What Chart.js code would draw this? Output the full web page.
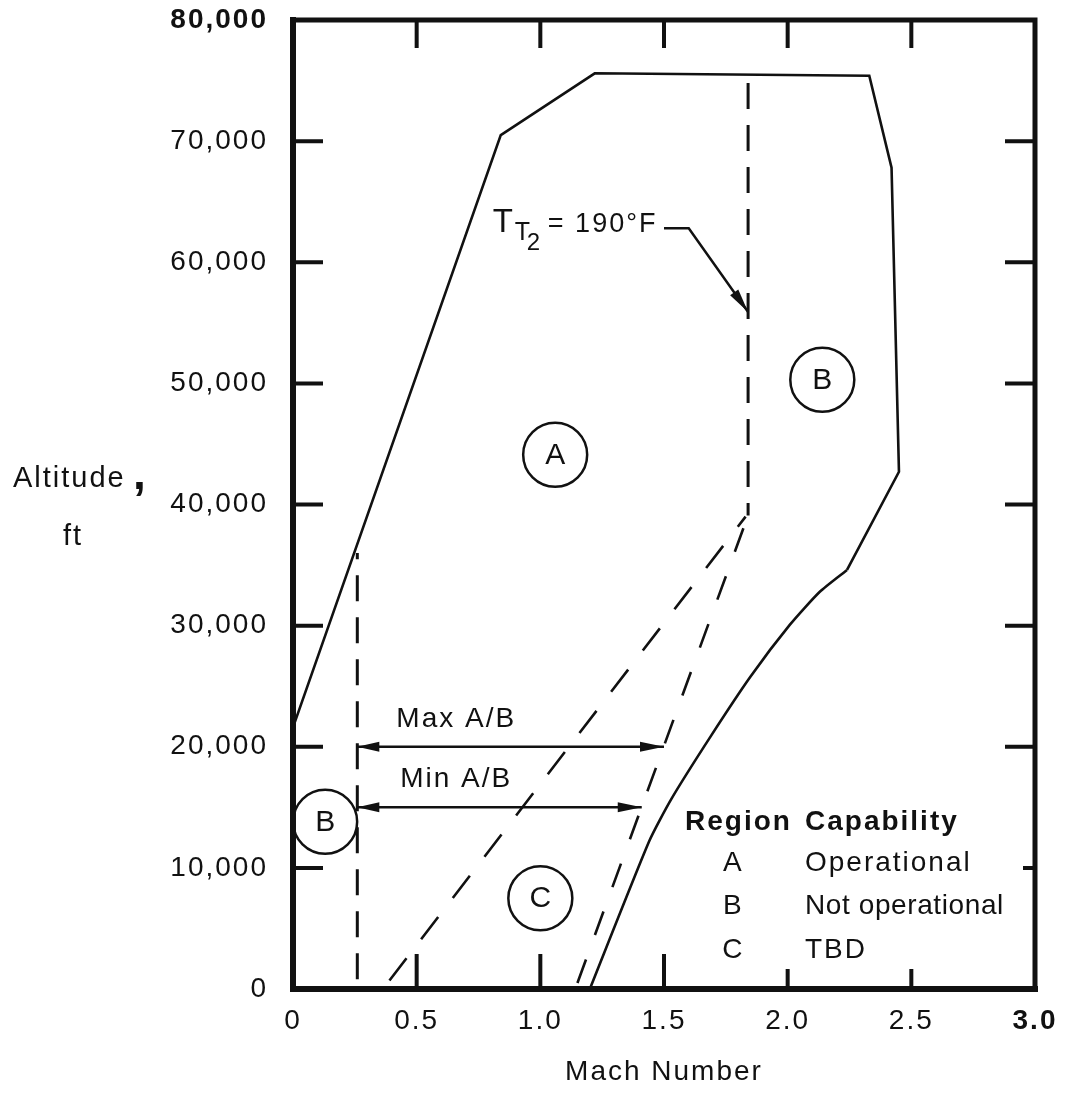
<!DOCTYPE html>
<html>
<head>
<meta charset="utf-8">
<script src="https://cdn.jsdelivr.net/npm/chart.js@4.4.0/dist/chart.umd.min.js"></script>
<style>
  html, body { margin: 0; padding: 0; background: #fff; }
  #wrap { width: 1072px; height: 1107px; position: relative; }
</style>
</head>
<body>
<div id="wrap"><canvas id="envelope"></canvas></div>
<script>
const xTickLabels = ["0", "0.5", "1.0", "1.5", "2.0", "2.5", "3.0"];
const yTickLabels = ["0", "10,000", "20,000", "30,000", "40,000", "50,000", "60,000", "70,000", "80,000"];

// outer envelope, Mach vs altitude (ft): straight part
const envelopeMach = [0, 0.84, 1.22, 2.33, 2.42, 2.45, 2.24];
const envelopeAlt = [21600, 70500, 75600, 75400, 67800, 42700, 34600];
// curved lower edge of the envelope
const lowerEdgeMach = [2.24, 2.13, 2.01, 1.85, 1.69, 1.53, 1.44, 1.2];
const lowerEdgeAlt = [34600, 32800, 30100, 25800, 20900, 15700, 12200, 0];

// dashed limit lines
const lowSpeedMach = [0.26, 0.26];
const lowSpeedAlt = [800, 36000];
const tempLimitMach = [1.84, 1.84];
const tempLimitAlt = [74800, 39100];
const shallowDashMach = [0.39, 1.83];
const shallowDashAlt = [700, 39000];
const steepDashMach = [1.15, 1.84];
const steepDashAlt = [500, 39100];

// afterburner ranges
const maxABMach = [0.26, 1.5];
const maxABAlt = [20000, 20000];
const minABMach = [0.26, 1.41];
const minABAlt = [15000, 15000];

// leader to the T_T2 line
const leaderMach = [1.5, 1.6, 1.84];
const leaderAlt = [62800, 62800, 55900];

// circled region markers
const regionNames = ["A", "B", "B", "C"];
const regionMach = [1.06, 2.14, 0.13, 1.0];
const regionAlt = [44100, 50300, 13800, 7500];

const ink = "#111";
const family = "'Liberation Sans', Arial, Helvetica, sans-serif";

const pts = (xs, ys) => xs.map((x, i) => ({ x, y: ys[i] }));

function lineSet(xs, ys, extra) {
  return Object.assign(
    {
      data: pts(xs, ys),
      showLine: true,
      borderColor: ink,
      borderWidth: 2.5,
      pointRadius: 0,
      fill: false,
      tension: 0,
      clip: false,
    },
    extra || {}
  );
}

function arrowHead(ctx, fromX, fromY, tipX, tipY, len, half) {
  const ang = Math.atan2(tipY - fromY, tipX - fromX);
  ctx.save();
  ctx.translate(tipX, tipY);
  ctx.rotate(ang);
  ctx.beginPath();
  ctx.moveTo(0, 0);
  ctx.lineTo(-len, -half);
  ctx.lineTo(-len, half);
  ctx.closePath();
  ctx.fill();
  ctx.restore();
}

const decor = {
  id: "decor",
  beforeLayout(chart) {
    chart.ctx.letterSpacing = "2px";
  },
  beforeDraw(chart) {
    chart.ctx.letterSpacing = "2px";
  },
  afterDatasetsDraw(chart) {
    const { ctx, chartArea: a } = chart;
    const xs = chart.scales.x;
    const ys = chart.scales.y;
    const X = (v) => xs.getPixelForValue(v);
    const Y = (v) => ys.getPixelForValue(v);

    ctx.save();
    ctx.fillStyle = ink;
    ctx.strokeStyle = ink;
    ctx.letterSpacing = "2px";

    // arrow heads
    chart.data.datasets.forEach((ds, i) => {
      if (!ds.arrows) return;
      const p = chart.getDatasetMeta(i).data;
      if (ds.arrows.includes("start")) {
        arrowHead(ctx, p[1].x, p[1].y, p[0].x, p[0].y, 22, 5);
      }
      if (ds.arrows.includes("end")) {
        const n = p.length;
        arrowHead(ctx, p[n - 2].x, p[n - 2].y, p[n - 1].x, p[n - 1].y, 24, 5);
      }
    });

    // letters inside circles
    const circles = chart.getDatasetMeta(chart.data.datasets.length - 1).data;
    ctx.font = "30px " + family;
    ctx.textAlign = "center";
    ctx.textBaseline = "middle";
    circles.forEach((pt, i) => {
      ctx.fillText(regionNames[i], pt.x + 1, pt.y + 1);
    });

    // arrow labels
    ctx.font = "28px " + family;
    ctx.fillText("Max A/B", X(0.66), Y(22300));
    ctx.fillText("Min A/B", X(0.66), Y(17300));

    // T_T2 = 190°F
    ctx.textAlign = "left";
    ctx.textBaseline = "alphabetic";
    const tx = X(0.808);
    const ty = Y(62500);
    ctx.letterSpacing = "0px";
    ctx.font = "33px " + family;
    ctx.fillText("T", tx, ty);
    ctx.font = "25px " + family;
    ctx.fillText("T", tx + 22, ty + 8);
    ctx.font = "24px " + family;
    ctx.fillText("2", tx + 34, ty + 18);
    ctx.letterSpacing = "2px";
    ctx.font = "27px " + family;
    ctx.fillText("= 190°F", tx + 55, ty);

    // region table
    ctx.textBaseline = "middle";
    ctx.font = "bold 28px " + family;
    ctx.fillText("Region", X(1.585), Y(13800));
    ctx.fillText("Capability", X(2.07), Y(13800));
    ctx.font = "28px " + family;
    const rows = [["A", "Operational"], ["B", "Not operational"], ["C", "TBD"]];
    const rowAlt = [10400, 6800, 3200];
    rows.forEach((r, i) => {
      ctx.textAlign = "center";
      ctx.fillText(r[0], X(1.78), Y(rowAlt[i]));
      ctx.textAlign = "left";
      ctx.letterSpacing = i === 1 ? "0.6px" : "2px";
      ctx.fillText(r[1], X(2.07), Y(rowAlt[i]));
      ctx.letterSpacing = "2px";
    });

    // y axis title, set horizontally
    ctx.textAlign = "left";
    ctx.textBaseline = "alphabetic";
    ctx.font = "29px " + family;
    ctx.fillText("Altitude", 13, 487);
    ctx.font = "bold 46px " + family;
    ctx.fillText(",", 133, 489);
    ctx.font = "29px " + family;
    ctx.fillText("ft", 63, 545);

    // inward tick marks
    ctx.lineWidth = 4;
    ctx.lineCap = "butt";
    ctx.beginPath();
    xs.ticks.forEach((t) => {
      if (t.value <= 0 || t.value >= 3) return;
      const x = X(t.value);
      const len = t.value >= 2 ? 20 : 35;
      ctx.moveTo(x, a.bottom);
      ctx.lineTo(x, a.bottom - len);
      ctx.moveTo(x, a.top);
      ctx.lineTo(x, a.top + 28);
    });
    ys.ticks.forEach((t) => {
      if (t.value <= 0 || t.value >= 80000) return;
      const y = Y(t.value);
      ctx.moveTo(a.left, y);
      ctx.lineTo(a.left + 30, y);
      ctx.moveTo(a.right, y);
      ctx.lineTo(a.right - (t.value === 10000 ? 12 : 30), y);
    });
    ctx.stroke();

    // frame
    ctx.lineCap = "square";
    ctx.lineWidth = 5;
    ctx.beginPath();
    ctx.moveTo(a.left, a.top);
    ctx.lineTo(a.right, a.top);
    ctx.lineTo(a.right, a.bottom);
    ctx.stroke();
    ctx.lineWidth = 6;
    ctx.beginPath();
    ctx.moveTo(a.left, a.top);
    ctx.lineTo(a.left, a.bottom);
    ctx.lineTo(a.right, a.bottom);
    ctx.stroke();
    ctx.restore();
  },
};

new Chart(document.getElementById("envelope"), {
  type: "scatter",
  data: {
    datasets: [
      lineSet(envelopeMach, envelopeAlt, { borderWidth: 2.6 }),
      lineSet(lowerEdgeMach, lowerEdgeAlt, { borderWidth: 2.6, tension: 0.2 }),
      lineSet(lowSpeedMach, lowSpeedAlt, { borderDash: [26, 16], borderWidth: 3 }),
      lineSet(tempLimitMach, tempLimitAlt, { borderDash: [26, 16], borderWidth: 3 }),
      lineSet(shallowDashMach, shallowDashAlt, { borderDash: [28, 24], borderWidth: 2.6 }),
      lineSet(steepDashMach, steepDashAlt, { borderDash: [25, 26], borderWidth: 2.6 }),
      lineSet(maxABMach, maxABAlt, { arrows: ["start", "end"], borderWidth: 2.5 }),
      lineSet(minABMach, minABAlt, { arrows: ["start", "end"], borderWidth: 2.5 }),
      lineSet(leaderMach, leaderAlt, { arrows: ["end"], borderWidth: 2.5 }),
      {
        data: pts(regionMach, regionAlt),
        showLine: false,
        pointStyle: "circle",
        pointRadius: 32,
        pointBackgroundColor: "rgba(255,255,255,0)",
        pointBorderColor: ink,
        pointBorderWidth: 2.5,
        clip: false,
      },
    ],
  },
  options: {
    responsive: true,
    maintainAspectRatio: false,
    animation: false,
    events: [],
    layout: { autoPadding: false, padding: { top: 20, right: 37, left: 0, bottom: 0 } },
    plugins: {
      legend: { display: false },
      tooltip: { enabled: false },
    },
    scales: {
      x: {
        type: "linear",
        min: 0,
        max: 3,
        grid: { display: false, drawTicks: false },
        border: { display: false },
        ticks: {
          stepSize: 0.5,
          padding: 15,
          color: ink,
          maxRotation: 0,
          autoSkip: false,
          font: (c) => ({ family, size: 28, weight: c.index === 6 ? "bold" : "normal" }),
          callback: (v, i) => xTickLabels[i],
        },
        title: {
          display: true,
          text: "Mach Number",
          color: ink,
          font: { family, size: 28 },
          padding: { top: 0, bottom: 18 },
        },
        afterFit: (s) => {
          s.height = 118;
          s.paddingLeft = 0;
          s.paddingRight = 0;
        },
      },
      y: {
        type: "linear",
        min: 0,
        max: 80000,
        grid: { display: false, drawTicks: false },
        border: { display: false },
        ticks: {
          stepSize: 10000,
          padding: 25,
          color: ink,
          autoSkip: false,
          font: (c) => ({ family, size: 28, weight: c.index === 8 ? "bold" : "normal" }),
          callback: (v, i) => yTickLabels[i],
        },
        afterFit: (s) => {
          s.width = 293;
          s.paddingTop = 0;
          s.paddingBottom = 0;
        },
      },
    },
  },
  plugins: [decor],
});
</script>
</body>
</html>
